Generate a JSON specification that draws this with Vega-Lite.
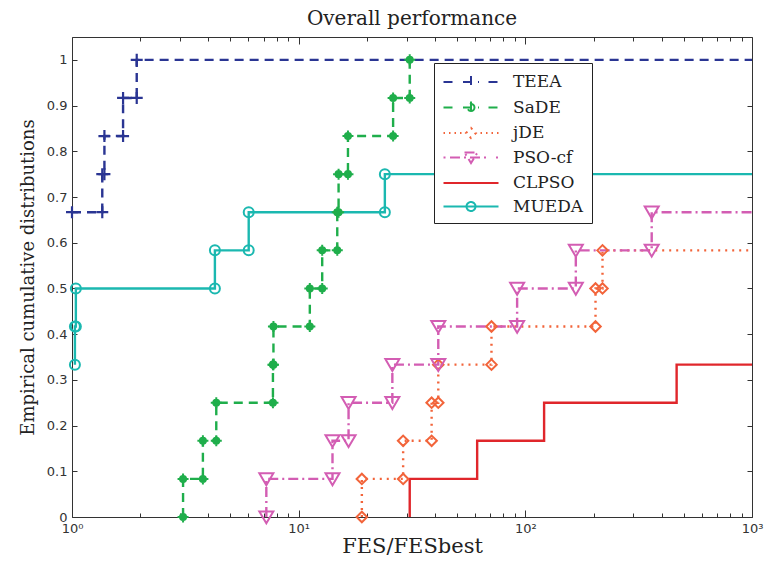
{
  "$schema": "https://vega.github.io/schema/vega-lite/v6.json",
  "width": 680,
  "height": 480,
  "autosize": {"type": "none"},
  "padding": {"left": 72, "top": 37, "right": 16, "bottom": 49},
  "background": "white",
  "title": {"text": "Overall performance", "font": "DejaVu Serif", "fontSize": 20, "fontWeight": "normal", "color": "#222", "offset": 8},
  "data": {"values": [
    {"alg": "TEEA", "i": 0, "x": 1, "y": 0.6667},
    {"alg": "TEEA", "i": 1, "x": 1.36, "y": 0.6667},
    {"alg": "TEEA", "i": 2, "x": 1.36, "y": 0.75},
    {"alg": "TEEA", "i": 3, "x": 1.39, "y": 0.75},
    {"alg": "TEEA", "i": 4, "x": 1.39, "y": 0.8333},
    {"alg": "TEEA", "i": 5, "x": 1.68, "y": 0.8333},
    {"alg": "TEEA", "i": 6, "x": 1.68, "y": 0.9167},
    {"alg": "TEEA", "i": 7, "x": 1.93, "y": 0.9167},
    {"alg": "TEEA", "i": 8, "x": 1.93, "y": 1},
    {"alg": "TEEA", "i": 9, "x": 1000, "y": 1},
    {"alg": "SaDE", "i": 0, "x": 3.09, "y": 0},
    {"alg": "SaDE", "i": 1, "x": 3.09, "y": 0.0833},
    {"alg": "SaDE", "i": 2, "x": 3.78, "y": 0.0833},
    {"alg": "SaDE", "i": 3, "x": 3.78, "y": 0.1667},
    {"alg": "SaDE", "i": 4, "x": 4.33, "y": 0.1667},
    {"alg": "SaDE", "i": 5, "x": 4.33, "y": 0.25},
    {"alg": "SaDE", "i": 6, "x": 7.7, "y": 0.25},
    {"alg": "SaDE", "i": 7, "x": 7.7, "y": 0.3333},
    {"alg": "SaDE", "i": 8, "x": 7.74, "y": 0.3333},
    {"alg": "SaDE", "i": 9, "x": 7.74, "y": 0.4167},
    {"alg": "SaDE", "i": 10, "x": 11.2, "y": 0.4167},
    {"alg": "SaDE", "i": 11, "x": 11.2, "y": 0.5},
    {"alg": "SaDE", "i": 12, "x": 12.7, "y": 0.5},
    {"alg": "SaDE", "i": 13, "x": 12.7, "y": 0.5833},
    {"alg": "SaDE", "i": 14, "x": 14.8, "y": 0.5833},
    {"alg": "SaDE", "i": 15, "x": 14.8, "y": 0.6667},
    {"alg": "SaDE", "i": 16, "x": 15.0, "y": 0.6667},
    {"alg": "SaDE", "i": 17, "x": 15.0, "y": 0.75},
    {"alg": "SaDE", "i": 18, "x": 16.5, "y": 0.75},
    {"alg": "SaDE", "i": 19, "x": 16.5, "y": 0.8333},
    {"alg": "SaDE", "i": 20, "x": 26.1, "y": 0.8333},
    {"alg": "SaDE", "i": 21, "x": 26.1, "y": 0.9167},
    {"alg": "SaDE", "i": 22, "x": 30.9, "y": 0.9167},
    {"alg": "SaDE", "i": 23, "x": 30.9, "y": 1},
    {"alg": "jDE", "i": 0, "x": 19, "y": 0},
    {"alg": "jDE", "i": 1, "x": 19, "y": 0.0833},
    {"alg": "jDE", "i": 2, "x": 28.9, "y": 0.0833},
    {"alg": "jDE", "i": 3, "x": 28.9, "y": 0.1667},
    {"alg": "jDE", "i": 4, "x": 38.6, "y": 0.1667},
    {"alg": "jDE", "i": 5, "x": 38.6, "y": 0.25},
    {"alg": "jDE", "i": 6, "x": 41.3, "y": 0.25},
    {"alg": "jDE", "i": 7, "x": 41.3, "y": 0.3333},
    {"alg": "jDE", "i": 8, "x": 70.9, "y": 0.3333},
    {"alg": "jDE", "i": 9, "x": 70.9, "y": 0.4167},
    {"alg": "jDE", "i": 10, "x": 204, "y": 0.4167},
    {"alg": "jDE", "i": 11, "x": 204, "y": 0.5},
    {"alg": "jDE", "i": 12, "x": 219, "y": 0.5},
    {"alg": "jDE", "i": 13, "x": 219, "y": 0.5833},
    {"alg": "jDE", "i": 14, "x": 1000, "y": 0.5833},
    {"alg": "PSO-cf", "i": 0, "x": 7.2, "y": 0},
    {"alg": "PSO-cf", "i": 1, "x": 7.2, "y": 0.0833},
    {"alg": "PSO-cf", "i": 2, "x": 14.1, "y": 0.0833},
    {"alg": "PSO-cf", "i": 3, "x": 14.1, "y": 0.1667},
    {"alg": "PSO-cf", "i": 4, "x": 16.6, "y": 0.1667},
    {"alg": "PSO-cf", "i": 5, "x": 16.6, "y": 0.25},
    {"alg": "PSO-cf", "i": 6, "x": 25.9, "y": 0.25},
    {"alg": "PSO-cf", "i": 7, "x": 25.9, "y": 0.3333},
    {"alg": "PSO-cf", "i": 8, "x": 41.3, "y": 0.3333},
    {"alg": "PSO-cf", "i": 9, "x": 41.3, "y": 0.4167},
    {"alg": "PSO-cf", "i": 10, "x": 92, "y": 0.4167},
    {"alg": "PSO-cf", "i": 11, "x": 92, "y": 0.5},
    {"alg": "PSO-cf", "i": 12, "x": 167, "y": 0.5},
    {"alg": "PSO-cf", "i": 13, "x": 167, "y": 0.5833},
    {"alg": "PSO-cf", "i": 14, "x": 361, "y": 0.5833},
    {"alg": "PSO-cf", "i": 15, "x": 361, "y": 0.6667},
    {"alg": "PSO-cf", "i": 16, "x": 1000, "y": 0.6667},
    {"alg": "CLPSO", "i": 0, "x": 30.9, "y": 0},
    {"alg": "CLPSO", "i": 1, "x": 30.9, "y": 0.0833},
    {"alg": "CLPSO", "i": 2, "x": 61.3, "y": 0.0833},
    {"alg": "CLPSO", "i": 3, "x": 61.3, "y": 0.1667},
    {"alg": "CLPSO", "i": 4, "x": 121, "y": 0.1667},
    {"alg": "CLPSO", "i": 5, "x": 121, "y": 0.25},
    {"alg": "CLPSO", "i": 6, "x": 465, "y": 0.25},
    {"alg": "CLPSO", "i": 7, "x": 465, "y": 0.3333},
    {"alg": "CLPSO", "i": 8, "x": 1000, "y": 0.3333},
    {"alg": "MUEDA", "i": 0, "x": 1.03, "y": 0.3333},
    {"alg": "MUEDA", "i": 1, "x": 1.03, "y": 0.4167},
    {"alg": "MUEDA", "i": 2, "x": 1.04, "y": 0.4167},
    {"alg": "MUEDA", "i": 3, "x": 1.04, "y": 0.5},
    {"alg": "MUEDA", "i": 4, "x": 4.27, "y": 0.5},
    {"alg": "MUEDA", "i": 5, "x": 4.27, "y": 0.5833},
    {"alg": "MUEDA", "i": 6, "x": 6.02, "y": 0.5833},
    {"alg": "MUEDA", "i": 7, "x": 6.02, "y": 0.6667},
    {"alg": "MUEDA", "i": 8, "x": 24, "y": 0.6667},
    {"alg": "MUEDA", "i": 9, "x": 24, "y": 0.75},
    {"alg": "MUEDA", "i": 10, "x": 1000, "y": 0.75}
  ]},
  "resolve": {"axis": {"x": "independent", "y": "independent"}},
  "layer": [
    {
      "transform": [{"filter": "datum.i < 0"}],
      "mark": {"type": "point", "size": 400, "filled": false, "strokeWidth": 2, "opacity": 1},
      "encoding": {
        "x": {"field": "x", "type": "quantitative", "scale": {"type": "log", "domain": [1, 1000], "nice": false}, "axis": null},
        "y": {"field": "y", "type": "quantitative", "scale": {"domain": [0, 1.05], "nice": false}, "axis": null},
        "shape": {"field": "alg", "type": "nominal",
          "scale": {"domain": ["TEEA", "SaDE", "jDE", "PSO-cf", "CLPSO", "MUEDA"],
            "range": [
              "M-2.75,0H-1.75M-0.8,0H0.8M0,-0.6V0.6M1.75,0H2.75",
              "M-2.75,0H-1.75M-0.8,0H0.8M0,-0.6V0.6M0.35,0A0.35,0.35 0 1,1 -0.35,0A0.35,0.35 0 1,1 0.35,0ZM1.75,0H2.75",
              "M-2.75,0H-2.6M-2.2,0H-2.05M-1.65,0H-1.5M-1.1,0H-0.95M-0.5,0L0,-0.5L0.5,0L0,0.5ZM0.95,0H1.1M1.5,0H1.65M2.05,0H2.2M2.6,0H2.75",
              "M-2.75,0H-2.55M-2.1,0H1.9M-0.65,-0.5H0.65L0,0.55ZM2.5,0H2.7",
              "M-2.75,0H2.75",
              "M-2.75,0H2.75M0.45,0A0.45,0.45 0 1,1 -0.45,0A0.45,0.45 0 1,1 0.45,0Z"
            ]},
          "legend": {"title": null, "orient": "none", "legendX": 362, "legendY": 26, "labelFont": "DejaVu Serif", "labelFontSize": 17, "labelColor": "#222",
            "strokeColor": "#222", "fillColor": "white", "padding": 8, "rowPadding": 4.5, "labelOffset": 31, "symbolOffset": 18, "symbolStrokeWidth": 2, "symbolSize": 400,
            "encode": {"symbols": {"update": {"fill": {"signal": "datum.value === 'SaDE' ? '#1fae4b' : 'transparent'"}, "strokeDash": {"value": [1, 0]}, "strokeWidth": {"value": 2}, "opacity": {"value": 1}}}}}},
        "color": {"field": "alg", "type": "nominal",
          "scale": {"domain": ["TEEA", "SaDE", "jDE", "PSO-cf", "CLPSO", "MUEDA"], "range": ["#2a3593", "#1fae4b", "#f2643a", "#d35db3", "#e0262b", "#1bb8b0"]},
          "legend": {"title": null, "orient": "none", "legendX": 362, "legendY": 26, "labelFont": "DejaVu Serif", "labelFontSize": 17, "labelColor": "#222",
            "strokeColor": "#222", "fillColor": "white", "padding": 8, "rowPadding": 4.5, "labelOffset": 31, "symbolOffset": 18, "symbolStrokeWidth": 2, "symbolSize": 400,
            "encode": {"symbols": {"update": {"fill": {"signal": "datum.value === 'SaDE' ? '#1fae4b' : 'transparent'"}, "strokeDash": {"value": [1, 0]}, "strokeWidth": {"value": 2}, "opacity": {"value": 1}}}}}}
      }
    },
    {
      "mark": {"type": "line", "strokeWidth": 2.4, "strokeCap": "butt"},
      "encoding": {
        "x": {"field": "x", "type": "quantitative",
          "axis": {"orient": "bottom", "values": [1, 10, 100, 1000], "tickSize": -7, "tickColor": "#333", "tickWidth": 1,
            "labelExpr": "datum.value == 1 ? '10⁰' : datum.value == 10 ? '10¹' : datum.value == 100 ? '10²' : '10³'",
            "labelFont": "DejaVu Sans", "labelFontSize": 13, "labelColor": "#333", "labelPadding": 12, "labelFlush": false,
            "title": "FES/FESbest", "titleFont": "DejaVu Serif", "titleFontSize": 21, "titleFontWeight": "normal", "titleColor": "#222", "titlePadding": 0}},
        "y": {"field": "y", "type": "quantitative",
          "axis": {"orient": "left", "values": [0, 0.1, 0.2, 0.3, 0.4, 0.5, 0.6, 0.7, 0.8, 0.9, 1], "format": "~g", "tickSize": -5, "tickColor": "#333",
            "labelFont": "DejaVu Sans", "labelFontSize": 13, "labelColor": "#333", "labelPadding": 10,
            "title": "Empirical cumulative distributions", "titleFont": "DejaVu Serif", "titleFontSize": 18, "titleFontWeight": "normal", "titleColor": "#222", "titlePadding": 9}},
        "color": {"field": "alg", "type": "nominal", "legend": null},
        "strokeDash": {"field": "alg", "type": "nominal", "scale": {"domain": ["TEEA", "SaDE", "jDE", "PSO-cf", "CLPSO", "MUEDA"], "range": [[9, 6], [9, 6], [2, 5], [10, 4, 2, 4], [1, 0], [1, 0]]}, "legend": null},
        "order": {"field": "i", "type": "quantitative"}
      }
    },
    {
      "transform": [{"filter": "datum.alg === 'TEEA' && datum.x < 1000"}],
      "mark": {"type": "point", "shape": "M-1,0H1M0,-1V1", "size": 144, "filled": false, "strokeWidth": 2.2, "color": "#2a3593", "opacity": 1},
      "encoding": {
        "x": {"field": "x", "type": "quantitative", "axis": {"orient": "bottom", "values": [2, 3, 4, 5, 6, 7, 8, 9, 20, 30, 40, 50, 60, 70, 80, 90, 200, 300, 400, 500, 600, 700, 800, 900], "tickSize": -4, "tickColor": "#333", "labels": false, "title": null}},
        "y": {"field": "y", "type": "quantitative", "axis": {"orient": "right", "values": [0, 0.1, 0.2, 0.3, 0.4, 0.5, 0.6, 0.7, 0.8, 0.9, 1], "tickSize": -5, "tickColor": "#333", "labels": false, "title": null}}
      }
    },
    {
      "transform": [{"filter": "datum.alg === 'SaDE'"}],
      "mark": {"type": "point", "shape": "M-1,0H1M0,-1V1M0.55,0A0.55,0.55 0 1,1 -0.55,0A0.55,0.55 0 1,1 0.55,0Z", "size": 121, "filled": true, "fill": "#1fae4b", "stroke": "#1fae4b", "strokeWidth": 2, "opacity": 1},
      "encoding": {
        "x": {"field": "x", "type": "quantitative", "axis": {"orient": "top", "values": [1, 10, 100, 1000], "tickSize": -7, "tickColor": "#333", "labels": false, "title": null}},
        "y": {"field": "y", "type": "quantitative", "axis": null}
      }
    },
    {
      "transform": [{"filter": "datum.alg === 'jDE' && datum.x < 1000"}],
      "mark": {"type": "point", "shape": "diamond", "size": 110, "filled": false, "strokeWidth": 2, "color": "#f2643a", "opacity": 1},
      "encoding": {
        "x": {"field": "x", "type": "quantitative", "axis": {"orient": "top", "values": [2, 3, 4, 5, 6, 7, 8, 9, 20, 30, 40, 50, 60, 70, 80, 90, 200, 300, 400, 500, 600, 700, 800, 900], "tickSize": -4, "tickColor": "#333", "labels": false, "title": null}},
        "y": {"field": "y", "type": "quantitative", "axis": null}
      }
    },
    {
      "transform": [{"filter": "datum.alg === 'PSO-cf' && datum.x < 1000"}],
      "mark": {"type": "point", "shape": "M-1,-0.8H1L0,0.9Z", "size": 196, "filled": false, "strokeWidth": 2, "color": "#d35db3", "opacity": 1},
      "encoding": {
        "x": {"field": "x", "type": "quantitative", "axis": null},
        "y": {"field": "y", "type": "quantitative", "axis": null}
      }
    },
    {
      "transform": [{"filter": "datum.alg === 'MUEDA' && datum.x < 1000"}],
      "mark": {"type": "point", "shape": "circle", "size": 100, "filled": false, "strokeWidth": 2, "color": "#1bb8b0", "opacity": 1},
      "encoding": {
        "x": {"field": "x", "type": "quantitative", "axis": null},
        "y": {"field": "y", "type": "quantitative", "axis": null}
      }
    }
  ],
  "config": {
    "view": {"stroke": "#333", "strokeWidth": 1},
    "axis": {"grid": false, "domain": false}
  }
}
